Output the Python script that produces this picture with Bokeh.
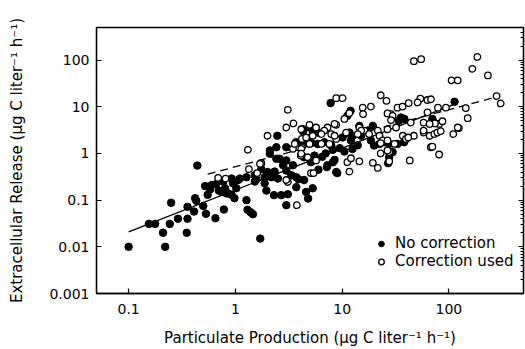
from bokeh.plotting import figure
from bokeh.models import Range1d, LogAxis, FixedTicker, Legend, LegendItem
from bokeh.embed import file_html
from bokeh.resources import INLINE

# ---- data ----
nocorr_x = [0.10, 0.155, 0.177, 0.21, 0.22, 0.243, 0.25, 0.29, 0.35, 0.356, 0.356, 0.41, 0.42, 0.43,
            0.44, 0.50, 0.53, 0.52, 0.55, 0.58, 0.60, 0.65, 0.66, 0.70, 0.74, 0.77, 0.78, 0.82, 0.80,
            0.85, 0.92, 0.95, 0.98, 1.02, 0.92, 1.06, 1.10, 1.27, 1.27, 1.30, 1.39, 1.46, 1.52, 1.52,
            1.57, 1.71, 1.75, 1.88, 1.95, 1.88, 2.0, 2.17, 2.3, 2.33, 2.5, 2.69, 2.8, 3.0, 3.1, 3.0,
            3.34, 3.72, 3.72, 3.9, 4.4, 4.6, 4.8, 5.3, 2.1, 2.42, 2.6, 3.0, 3.46, 2.1, 2.42, 3.0,
            2.47, 3.7, 4.4, 5.1, 5.9, 6.8, 7.9, 4.3, 4.95, 5.5, 5.9, 4.3, 5.3, 7.3, 8.8, 4.4, 5.1,
            7.2, 8.2, 8.5, 9.0, 7.8, 10.1, 11.7, 12.6, 12.1, 15.1, 17.4, 19.4, 14.5, 18.6, 19.9,
            22.4, 24.8, 27.6, 11.2, 12.0, 35.6, 38.3, 34.0, 29.7, 27.6, 27.0, 38.0, 33.0, 113.0,
            70.0, 5.5, 6.5, 7.0, 6.0, 8.2, 9.5, 10.5, 12.5, 14.0]
nocorr_y = [0.010, 0.031, 0.031, 0.020, 0.010, 0.031, 0.088, 0.040, 0.020, 0.040, 0.072, 0.057, 0.11,
            0.097, 0.55, 0.075, 0.051, 0.20, 0.13, 0.17, 0.21, 0.041, 0.22, 0.16, 0.15, 0.25, 0.063,
            0.14, 0.18, 0.14, 0.13, 0.23, 0.11, 0.18, 0.29, 0.27, 0.29, 0.31, 0.10, 0.062, 0.055,
            0.050, 0.34, 0.25, 0.28, 0.015, 0.46, 0.23, 0.16, 0.31, 0.40, 0.31, 0.128, 0.41, 0.29,
            0.128, 0.56, 0.43, 0.134, 0.078, 0.34, 0.31, 0.19, 0.28, 0.27, 0.15, 0.108, 0.18, 1.16,
            0.77, 0.77, 0.71, 0.56, 0.99, 1.36, 1.36, 2.4, 1.74, 1.6, 1.74, 1.6, 1.74, 1.48, 3.3,
            3.6, 3.3, 2.8, 3.0, 3.0, 0.56, 0.40, 0.83, 0.65, 0.51, 0.65, 0.73, 0.38, 12.0, 2.2,
            2.8, 2.4, 1.9, 2.4, 3.1, 3.9, 3.9, 1.9, 1.48, 1.6, 1.74, 1.6, 6.4, 8.2, 5.9, 5.5, 5.0,
            1.07, 0.83, 0.62, 1.74, 1.6, 12.8, 5.5, 0.9, 0.85, 1.0, 0.45, 1.2, 1.3, 1.1, 1.25, 1.5]

corr_x = [0.69, 0.81, 1.34, 1.75, 1.6, 3.1, 1.31, 1.7, 2.0, 3.1, 3.0, 3.5, 3.46, 4.2, 4.2, 4.1, 4.95,
          7.3, 8.8, 8.8, 10.1, 6.4, 7.6, 8.8, 5.7, 5.1, 3.0, 3.77, 5.4, 11.2, 11.7, 12.1, 14.5,
          19.4, 21.6, 27.6, 43.0, 81.0, 47.0, 55.0, 23.0, 26.0, 15.6, 18.6, 15.7, 10.5, 11.7,
          10.9, 7.9, 14.5, 16.2, 17.9, 21.6, 28.7, 33.0, 36.8, 42.0, 54.0, 63.0, 47.0, 37.0,
          39.6, 26.6, 22.4, 24.0, 31.0, 27.6, 58.0, 66.0, 73.0, 78.0, 67.7, 73.0, 81.0, 63.0,
          44.0, 185.0, 166.0, 232.0, 106.0, 121.0, 280.0, 306.0, 144.0, 94.0, 79.0, 150.0,
          124.0, 110.0, 84.0, 87.0, 74.0, 70.0, 68.0, 26.6, 29.7, 28.7, 51.0, 58.0, 66.0, 58.0,
          121.0, 23.0, 32.0, 41.6, 26.6, 26.6, 23.0, 8.5, 6.8, 5.7, 8.5, 15.1, 14.0, 4.14, 4.6,
          5.3, 6.4, 3.6, 4.14, 4.95, 4.14, 4.77]
corr_y = [0.30, 0.29, 0.46, 0.62, 0.38, 0.245, 1.2, 0.60, 2.4, 8.6, 3.6, 4.4, 1.26, 2.05, 1.36, 0.91,
          4.1, 3.6, 4.1, 15.3, 15.3, 1.6, 1.6, 2.05, 0.71, 0.38, 0.27, 0.078, 0.38, 0.65, 0.41,
          0.79, 0.68, 0.63, 0.49, 0.68, 0.71, 0.95, 95.0, 105.0, 17.7, 13.4, 9.6, 10.1, 7.0, 5.5,
          7.3, 2.8, 2.6, 3.6, 3.1, 2.6, 3.1, 7.0, 9.6, 10.1, 12.0, 15.0, 14.0, 2.4, 2.4, 2.05,
          3.3, 2.4, 1.9, 1.6, 1.07, 2.8, 2.4, 2.6, 2.8, 1.36, 4.6, 4.3, 7.6, 4.6, 117.0, 65.0,
          47.0, 37.0, 37.0, 17.0, 11.8, 9.4, 9.6, 9.6, 5.7, 3.5, 2.6, 3.0, 4.9, 4.4, 1.4, 14.5,
          7.2, 6.4, 5.2, 12.4, 4.6, 4.3, 3.1, 3.6, 1.0, 3.6, 2.2, 1.16, 1.9, 1.66, 4.3, 3.1, 3.6,
          2.4, 3.1, 2.6, 3.3, 2.2, 2.4, 2.6, 1.6, 1.26, 1.6, 0.99, 0.83]

# regression lines (end points)
solid_x = [0.10, 120.0]
solid_y = [0.021, 12.0]
dashed_x = [0.55, 300.0]
dashed_y = [0.36, 17.0]

x_ticks = [0.1, 1, 10, 100]
x_tick_labels = {0.1: "0.1", 1: "1", 10: "10", 100: "100"}
y_ticks = [0.001, 0.01, 0.1, 1, 10, 100]
y_tick_labels = {0.001: "0.001", 0.01: "0.01", 0.1: "0.1", 1: "1", 10: "10", 100: "100"}
y_minor = [m * d for d in [0.001, 0.01, 0.1, 1, 10, 100] for m in range(2, 10)]

FONT = "DejaVu Sans"

p = figure(width=525, height=349, x_axis_type="log", y_axis_type="log",
           x_range=Range1d(0.05, 500), y_range=Range1d(0.001, 500),
           output_backend="svg", toolbar_location=None,
           min_border_left=96, min_border_right=2, min_border_top=27, min_border_bottom=54)

p.grid.visible = False
p.outline_line_color = "black"
p.outline_line_width = 1.3
p.background_fill_color = "white"
p.border_fill_color = "white"

p.line(solid_x, solid_y, line_color="black", line_width=1.3)
p.line(dashed_x, dashed_y, line_color="black", line_width=1.3, line_dash="8 5")

r1 = p.scatter(nocorr_x, nocorr_y, marker="circle", size=7.5, fill_color="black", line_color="black")
r2 = p.scatter(corr_x, corr_y, marker="circle", size=6.5, fill_color="white", line_color="black",
               line_width=1.3)

xa = p.xaxis[0]
xa.ticker = FixedTicker(ticks=x_ticks)
xa.major_label_overrides = x_tick_labels
ya = p.yaxis[0]
ya.ticker = FixedTicker(ticks=y_ticks)
ya.major_label_overrides = y_tick_labels

xa.axis_label = "Particulate Production (\u03bcg C liter\u207b\u00b9 h\u207b\u00b9)"
ya.axis_label = "Extracellular Release (\u03bcg C liter\u207b\u00b9 h\u207b\u00b9)"

for ax in (xa, ya):
    ax.axis_label_text_font = FONT
    ax.axis_label_text_font_size = "15px"
    ax.axis_label_text_font_style = "normal"
    ax.axis_label_text_color = "black"
    ax.major_label_text_font = FONT
    ax.major_label_text_font_size = "14px"
    ax.major_label_text_color = "black"
    ax.major_tick_in = 5
    ax.major_tick_out = 0
    ax.minor_tick_in = 0
    ax.minor_tick_out = 0
    ax.axis_line_color = "black"
    ax.axis_line_width = 1.3
    ax.major_tick_line_width = 1.2

xa.major_label_standoff = 10
xa.axis_label_standoff = 12
ya.major_label_standoff = 7
ya.axis_label_standoff = 20

ra = LogAxis(ticker=FixedTicker(ticks=y_ticks, minor_ticks=y_minor),
             major_label_overrides={t: "" for t in y_ticks},
             major_label_text_color=None, major_label_standoff=0,
             major_tick_in=5, major_tick_out=0, minor_tick_in=3, minor_tick_out=0,
             axis_line_color="black", axis_line_width=1.3)
p.add_layout(ra, "right")

legend = Legend(items=[LegendItem(label="No correction", renderers=[r1]),
                       LegendItem(label="Correction used", renderers=[r2])],
                location=(278, 23))
legend.background_fill_alpha = 0
legend.border_line_color = None
legend.padding = 0
legend.spacing = 0
legend.margin = 0
legend.glyph_width = 14
legend.glyph_height = 17
legend.label_height = 17
legend.label_standoff = 7
legend.label_text_font = FONT
legend.label_text_font_size = "15px"
legend.label_text_color = "black"
p.add_layout(legend, "center")

open("out.html", "w").write(file_html(p, INLINE))
